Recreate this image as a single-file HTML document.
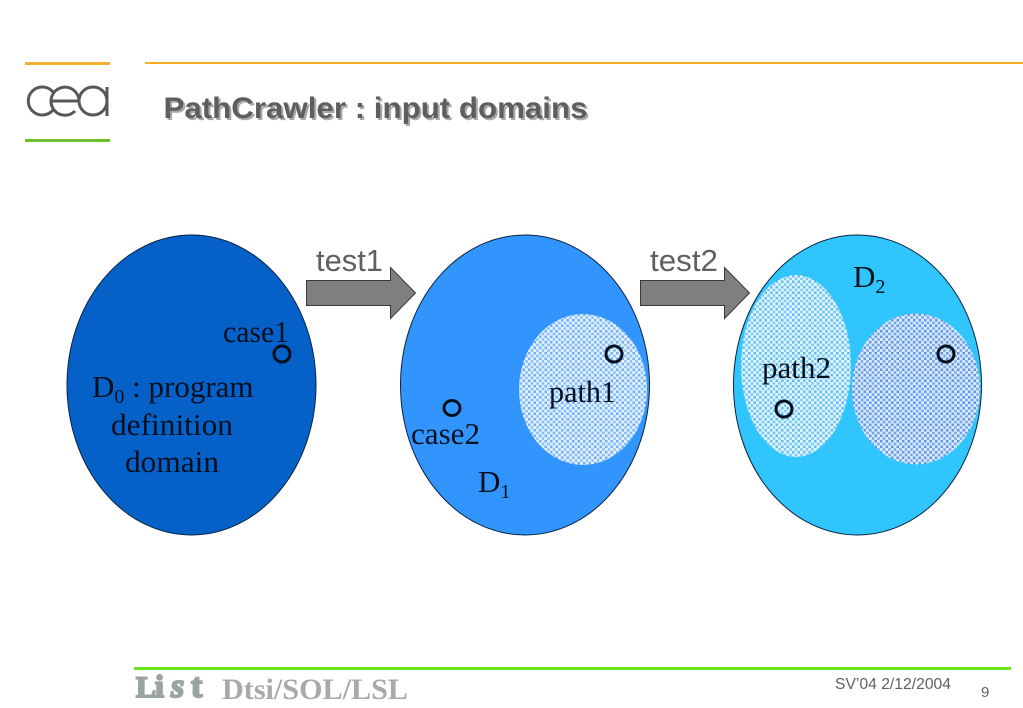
<!DOCTYPE html>
<html>
<head>
<meta charset="utf-8">
<style>
html,body{margin:0;padding:0;background:#fff;width:1023px;height:708px;overflow:hidden}
svg{display:block}
.s{font-family:"Liberation Serif",serif;fill:#05101f;font-size:31px}
.h{font-family:"Liberation Sans",sans-serif}
</style>
</head>
<body>
<svg width="1023" height="708" viewBox="0 0 1023 708" xmlns="http://www.w3.org/2000/svg">
<defs>
<pattern id="p1" width="5.500" height="5.500" patternUnits="userSpaceOnUse">
<rect width="5.500" height="5.500" fill="#e2f0fe"/>
<rect x="0" y="0" width="2.500" height="2.500" fill="#6fb0f6"/>
<rect x="2.750" y="2.750" width="2.500" height="2.500" fill="#82bcf8"/>
</pattern>
<pattern id="p2" width="5.500" height="5.500" patternUnits="userSpaceOnUse">
<rect width="5.500" height="5.500" fill="#dff4fd"/>
<rect x="0" y="0" width="2.500" height="2.500" fill="#62bdf0"/>
<rect x="2.750" y="2.750" width="2.500" height="2.500" fill="#74c8f3"/>
</pattern>
<pattern id="p3" width="5.500" height="5.500" patternUnits="userSpaceOnUse">
<rect width="5.500" height="5.500" fill="#d9e9fb"/>
<rect x="0" y="0" width="2.500" height="2.500" fill="#5f97e6"/>
<rect x="2.750" y="2.750" width="2.500" height="2.500" fill="#6fa4ea"/>
</pattern>
</defs>

<!-- header -->
<rect x="25" y="62" width="85" height="3" fill="#f0b232"/>
<rect x="145" y="62" width="878" height="2" fill="#f4ae23"/>
<rect x="25" y="139" width="85" height="3" fill="#6fbf2c"/>
<g fill="none" stroke="#56595c" stroke-width="3">
<path d="M53 92 A14 14 0 1 0 53 110"/>
<path d="M51 101 H79 A14 14 0 1 0 75 111"/>
<circle cx="93" cy="101" r="14"/>
<path d="M107 87 V116"/>
</g>
<text class="h" x="165.500" y="120" font-size="30" font-weight="700" fill="#a9a9a9" textLength="424" lengthAdjust="spacingAndGlyphs">PathCrawler : input domains</text>
<text class="h" x="163.500" y="118" font-size="30" font-weight="700" fill="#5c5e61" textLength="424" lengthAdjust="spacingAndGlyphs">PathCrawler : input domains</text>

<!-- ellipse 1 -->
<ellipse cx="191.500" cy="385" rx="124.500" ry="150" fill="#0560c8" stroke="#0a2440" stroke-width="1"/>
<text class="s" x="223" y="342" textLength="66" lengthAdjust="spacingAndGlyphs">case1</text>
<ellipse cx="282" cy="354" rx="8" ry="8" fill="none" stroke="#05101f" stroke-width="3"/>
<text class="s" x="92" y="397">D<tspan font-size="20" dy="6">0</tspan><tspan dy="-6"> : program</tspan></text>
<text class="s" x="111" y="435" textLength="122" lengthAdjust="spacingAndGlyphs">definition</text>
<text class="s" x="125" y="472" textLength="94" lengthAdjust="spacingAndGlyphs">domain</text>

<!-- arrow 1 -->
<text class="h" x="316" y="271" font-size="31" fill="#5f6062" textLength="67" lengthAdjust="spacingAndGlyphs">test1</text>
<path d="M306.500 280.500 H390.500 V267.500 L415.500 293 L390.500 318.500 V305.500 H306.500 Z" fill="#7f7f7f" stroke="#3a3a3a" stroke-width="1"/>

<!-- ellipse 2 -->
<ellipse cx="525" cy="385" rx="124.500" ry="150" fill="#3295fd" stroke="#0a2440" stroke-width="1"/>
<ellipse cx="583" cy="389.500" rx="64" ry="75.500" fill="url(#p1)"/>
<ellipse cx="614" cy="354" rx="8" ry="8" fill="none" stroke="#05101f" stroke-width="3"/>
<text class="s" x="549" y="402" textLength="67" lengthAdjust="spacingAndGlyphs">path1</text>
<ellipse cx="452" cy="408" rx="8" ry="7.500" fill="none" stroke="#05101f" stroke-width="3"/>
<text class="s" x="411" y="444" textLength="69" lengthAdjust="spacingAndGlyphs">case2</text>
<text class="s" x="478" y="492">D<tspan font-size="20" dy="6">1</tspan></text>

<!-- arrow 2 -->
<text class="h" x="650" y="271" font-size="31" fill="#5f6062" textLength="68" lengthAdjust="spacingAndGlyphs">test2</text>
<path d="M640.500 280.500 H724.500 V267.500 L749.500 293 L724.500 318.500 V305.500 H640.500 Z" fill="#7f7f7f" stroke="#3a3a3a" stroke-width="1"/>

<!-- ellipse 3 -->
<ellipse cx="857.500" cy="385" rx="124" ry="150" fill="#30c6fd" stroke="#0a2440" stroke-width="1"/>
<ellipse cx="796" cy="366" rx="55" ry="91" fill="url(#p2)"/>
<ellipse cx="916" cy="389" rx="64" ry="75.500" fill="url(#p3)"/>
<ellipse cx="946" cy="354" rx="8" ry="8" fill="none" stroke="#05101f" stroke-width="3"/>
<ellipse cx="784" cy="409" rx="8" ry="8" fill="none" stroke="#05101f" stroke-width="3"/>
<text class="s" x="762" y="378" textLength="69" lengthAdjust="spacingAndGlyphs">path2</text>
<text class="s" x="853" y="287">D<tspan font-size="20" dy="6">2</tspan></text>

<!-- footer -->
<rect x="134" y="667" width="877" height="3" fill="#66e81c"/>
<text y="697" font-family="Liberation Serif,serif" font-weight="700" fill="#9aa5a3" stroke="#9aa5a3" stroke-width="2" font-size="30"><tspan x="136">L</tspan><tspan x="155" font-size="32">i</tspan><tspan x="171" font-size="34" font-style="italic">s</tspan><tspan x="191" font-size="34">t</tspan></text>
<text x="222" y="699" font-family="Liberation Serif,serif" font-size="30" font-weight="700" fill="#a8a9ad" textLength="186" lengthAdjust="spacingAndGlyphs">Dtsi/SOL/LSL</text>
<text class="h" x="835" y="689" font-size="15.700" fill="#606165" textLength="116" lengthAdjust="spacingAndGlyphs">SV’04 2/12/2004</text>
<text class="h" x="981" y="697" font-size="15" fill="#606165">9</text>
</svg>
</body>
</html>
